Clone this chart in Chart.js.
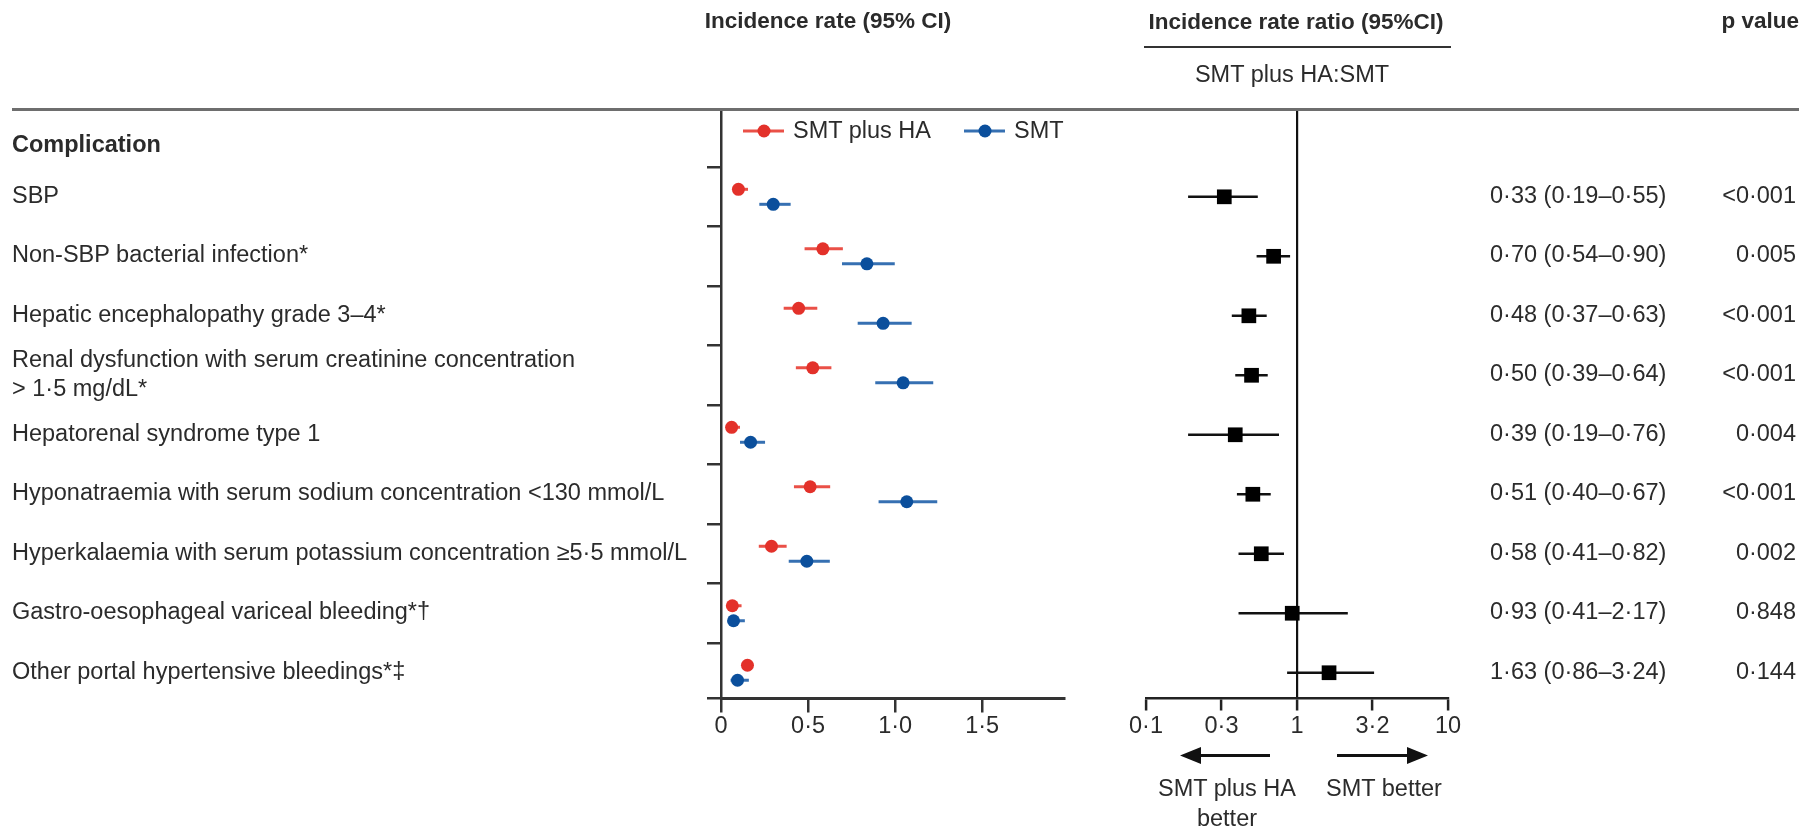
<!DOCTYPE html>
<html>
<head>
<meta charset="utf-8">
<script src="https://cdn.jsdelivr.net/npm/chart.js@4.4.1/dist/chart.umd.min.js"></script>
<style>
  html, body { margin: 0; padding: 0; background: #fff; }
  #page {
    position: relative; width: 1812px; height: 832px; overflow: hidden;
    font-family: "Liberation Sans", Arial, sans-serif; font-size: 23.5px; color: #2b2b2b;
  }
  canvas { position: absolute; left: 0; top: 0; }
  .t { position: absolute; white-space: nowrap; line-height: 1; transform: translateY(-50%); }
  .b { font-weight: bold; }
  .h { font-size: 22.5px; }
  .c { transform: translate(-50%, -50%); text-align: center; }
  .r { transform: translate(-100%, -50%); text-align: right; }
  .rule { position: absolute; background: #6e6e6e; }
  #legend span.sym { position: absolute; height: 3px; transform: translateY(-50%); }
  #legend span.dot { position: absolute; width: 13px; height: 13px; border-radius: 50%; transform: translate(-50%, -50%); }
</style>
</head>
<body>
<div id="page">
  <canvas id="rates" width="1812" height="832"></canvas>
  <canvas id="ratio" width="1812" height="832"></canvas>

  <div class="t b h c" style="left:828px; top:21px;">Incidence rate (95% CI)</div>
  <div class="t b h c" style="left:1296px; top:22px;">Incidence rate ratio (95%CI)</div>
  <div class="rule" style="left:1144px; top:46px; width:307px; height:2px; background:#333;"></div>
  <div class="t c" style="left:1292px; top:75px;">SMT plus HA:SMT</div>
  <div class="t b h r" style="left:1799px; top:21px;">p value</div>
  <div class="rule" style="left:12px; top:108px; width:1787px; height:3px;"></div>
  <div class="t b" style="left:12px; top:145px;">Complication</div>

  <div id="legend"></div>
  <div id="rows"></div>

  <svg width="1812" height="832" style="position:absolute;left:0;top:0;pointer-events:none">
    <line x1="1198" y1="755.5" x2="1270" y2="755.5" stroke="#111" stroke-width="3"/>
    <polygon points="1180,755.5 1201,747 1201,764" fill="#111"/>
    <line x1="1337" y1="755.5" x2="1410" y2="755.5" stroke="#111" stroke-width="3"/>
    <polygon points="1428,755.5 1407,747 1407,764" fill="#111"/>
  </svg>
  <div class="t c" style="left:1227px; top:789px;">SMT plus HA</div>
  <div class="t c" style="left:1227px; top:819px;">better</div>
  <div class="t c" style="left:1384px; top:789px;">SMT better</div>
</div>

<script>
// Complications (rows, top to bottom)
const complications = [
    'SBP',
    'Non-SBP bacterial infection*',
    'Hepatic encephalopathy grade 3–4*',
    'Renal dysfunction with serum creatinine concentration<br>&gt; 1·5 mg/dL*',
    'Hepatorenal syndrome type 1',
    'Hyponatraemia with serum sodium concentration &lt;130 mmol/L',
    'Hyperkalaemia with serum potassium concentration ≥5·5 mmol/L',
    'Gastro-oesophageal variceal bleeding*†',
    'Other portal hypertensive bleedings*‡'
];

// Incidence rates
const seriesNames = ['SMT plus HA', 'SMT'];
const haRate = [0.10, 0.585, 0.446, 0.527, 0.061, 0.512, 0.29, 0.065, 0.152];
const haLow  = [0.07, 0.48, 0.36, 0.43, 0.04, 0.419, 0.217, 0.045, 0.125];
const haHigh = [0.155, 0.70, 0.553, 0.634, 0.109, 0.627, 0.377, 0.118, 0.18];
const smtRate = [0.30, 0.838, 0.931, 1.046, 0.17, 1.067, 0.493, 0.072, 0.095];
const smtLow  = [0.22, 0.695, 0.785, 0.886, 0.109, 0.905, 0.389, 0.042, 0.055];
const smtHigh = [0.40, 0.998, 1.095, 1.219, 0.253, 1.242, 0.625, 0.137, 0.16];

// Incidence rate ratios
const irr     = [0.33, 0.70, 0.48, 0.50, 0.39, 0.51, 0.58, 0.93, 1.63];
const irrLow  = [0.19, 0.54, 0.37, 0.39, 0.19, 0.40, 0.41, 0.41, 0.86];
const irrHigh = [0.55, 0.90, 0.63, 0.64, 0.76, 0.67, 0.82, 2.17, 3.24];
const pValues = ['<0·001', '0·005', '<0·001', '<0·001', '0·004', '<0·001', '0·002', '0·848', '0·144'];

// Tick labels
const rateTicks = [0, 0.5, 1, 1.5];
const rateTickLabels = ['0', '0·5', '1·0', '1·5'];
const ratioTicks = [0.1, Math.pow(10, -0.5), 1, Math.pow(10, 0.5), 10];
const ratioTickLabels = ['0·1', '0·3', '1', '3·2', '10'];

const RED = '#e3312a', RED_BAR = '#ea5047';
const BLUE = '#0b4f9c', BLUE_BAR = '#3670b2';
const INK = '#2b2b2b';
const FONT = { family: '"Liberation Sans", Arial, sans-serif', size: 23.5 };

// row axis range (row index units)
const ROW_MIN = -1.476, ROW_MAX = 8.433;

function fmt(v) {
    return v.toFixed(2).replace('.', '·');
}

// draws horizontal CI lines for datasets that carry lo/hi arrays
const errorBars = {
    id: 'errorBars',
    beforeDatasetsDraw(chart) {
        const { ctx, scales: { x, y } } = chart;
        chart.data.datasets.forEach(ds => {
            if (!ds.lo) return;
            ctx.save();
            ctx.strokeStyle = ds.barColor;
            ctx.lineWidth = ds.barWidth;
            ds.data.forEach((p, i) => {
                const py = y.getPixelForValue(p.y);
                ctx.beginPath();
                ctx.moveTo(x.getPixelForValue(ds.lo[i]), py);
                ctx.lineTo(x.getPixelForValue(ds.hi[i]), py);
                ctx.stroke();
            });
            ctx.restore();
        });
    }
};

const rowSeparators = complications.map((c, i) => i - 0.5).concat([ROW_MAX]);

const ratesChart = new Chart(document.getElementById('rates'), {
    type: 'scatter',
    data: {
        datasets: [
            {
                label: seriesNames[0],
                data: haRate.map((v, i) => ({ x: v, y: i - 0.126 })),
                lo: haLow, hi: haHigh, barColor: RED_BAR, barWidth: 3,
                backgroundColor: RED, borderWidth: 0, pointRadius: 6.5, clip: false
            },
            {
                label: seriesNames[1],
                data: smtRate.map((v, i) => ({ x: v, y: i + 0.126 })),
                lo: smtLow, hi: smtHigh, barColor: BLUE_BAR, barWidth: 3,
                backgroundColor: BLUE, borderWidth: 0, pointRadius: 6.5, clip: false
            }
        ]
    },
    options: {
        responsive: false,
        animation: false,
        events: [],
        layout: { padding: { left: 707, right: 748, top: 109, bottom: 83.5 } },
        plugins: { legend: { display: false }, tooltip: { enabled: false } },
        scales: {
            x: {
                type: 'linear', min: 0, max: 1.97,
                afterBuildTicks: s => { s.ticks = rateTicks.map(v => ({ value: v })); },
                afterFit: s => { s.height = 50; },
                ticks: { callback: (v, i) => rateTickLabels[i], color: INK, font: FONT, padding: 0, maxRotation: 0 },
                grid: { drawOnChartArea: false, tickLength: 14, color: '#333', lineWidth: 2.5 },
                border: { display: true, color: '#333', width: 3 }
            },
            y: {
                type: 'linear', reverse: true, min: ROW_MIN, max: ROW_MAX,
                afterBuildTicks: s => { s.ticks = rowSeparators.map(v => ({ value: v })); },
                afterFit: s => { s.width = 14; },
                ticks: { display: false },
                grid: { drawOnChartArea: false, tickLength: 14, color: '#333', lineWidth: 2.5 },
                border: { display: true, color: '#333', width: 2.5 }
            }
        }
    },
    plugins: [errorBars]
});

const ratioChart = new Chart(document.getElementById('ratio'), {
    type: 'scatter',
    data: {
        datasets: [{
            label: 'SMT plus HA:SMT',
            data: irr.map((v, i) => ({ x: v, y: i })),
            lo: irrLow, hi: irrHigh, barColor: '#111', barWidth: 2.5,
            backgroundColor: '#000', borderWidth: 0, pointStyle: 'rect', pointRadius: 10.4, clip: false
        }]
    },
    options: {
        responsive: false,
        animation: false,
        events: [],
        layout: { padding: { left: 1146, right: 364, top: 109, bottom: 83.5 } },
        plugins: { legend: { display: false }, tooltip: { enabled: false } },
        scales: {
            x: {
                type: 'logarithmic', min: 0.1, max: 10,
                afterBuildTicks: s => { s.ticks = ratioTicks.map(v => ({ value: v })); },
                afterFit: s => { s.height = 50; },
                ticks: { callback: (v, i) => ratioTickLabels[i], color: INK, font: FONT, padding: 2, maxRotation: 0, autoSkip: false },
                grid: {
                    drawOnChartArea: true, tickLength: 12, lineWidth: 2.2,
                    color: c => (c.tick && c.tick.value === 1) ? '#111' : 'rgba(0,0,0,0)',
                    tickColor: '#222', tickWidth: 2.5
                },
                border: { display: true, color: '#222', width: 2.5 }
            },
            y: { type: 'linear', reverse: true, min: ROW_MIN, max: ROW_MAX, display: false }
        }
    },
    plugins: [errorBars]
});

// row texts placed on the row scale
const rowsDiv = document.getElementById('rows');
const yScale = ratesChart.scales.y;
complications.forEach((name, i) => {
    const py = yScale.getPixelForValue(i) - 1;
    const multi = name.indexOf('<br>') >= 0;
    rowsDiv.insertAdjacentHTML('beforeend',
        `<div class="t" style="left:12px; top:${py}px;${multi ? ' line-height:29px;' : ''}">${name}</div>` +
        `<div class="t" style="left:1490px; top:${py}px;">${fmt(irr[i])} (${fmt(irrLow[i])}–${fmt(irrHigh[i])})</div>` +
        `<div class="t r" style="left:1796px; top:${py}px;">${pValues[i].replace('<', '&lt;')}</div>`);
});

// legend inside the rate panel
const legend = document.getElementById('legend');
const legendItems = [
    { name: seriesNames[0], color: RED, bar: RED_BAR, x0: 743 },
    { name: seriesNames[1], color: BLUE, bar: BLUE_BAR, x0: 964 }
];
legendItems.forEach(it => {
    legend.insertAdjacentHTML('beforeend',
        `<span class="sym" style="left:${it.x0}px; top:131px; width:41px; background:${it.bar};"></span>` +
        `<span class="dot" style="left:${it.x0 + 20.5}px; top:131px; background:${it.color};"></span>` +
        `<div class="t" style="left:${it.x0 + 50}px; top:131px;">${it.name}</div>`);
});
</script>
</body>
</html>
